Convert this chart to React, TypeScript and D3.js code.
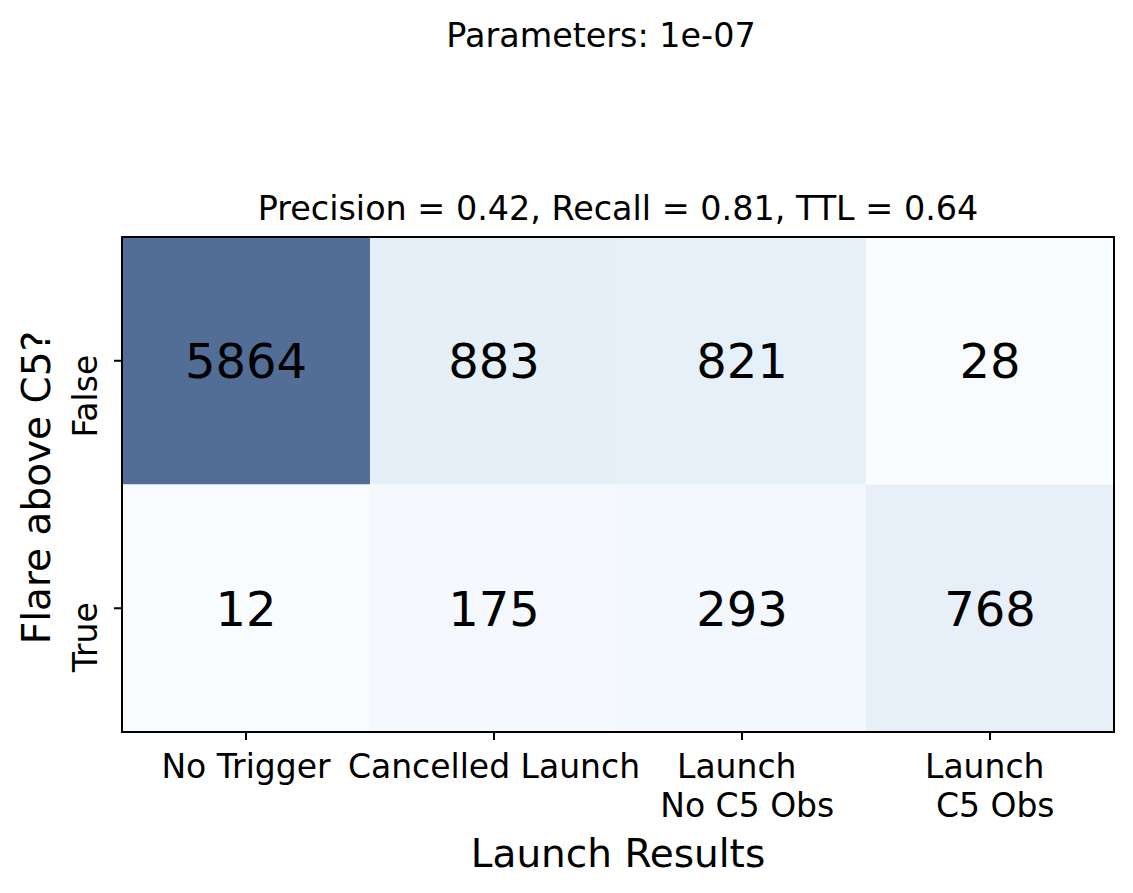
import React from "react";
import * as d3 from "d3";

const xCategories = ["No Trigger", "Cancelled Launch", "Launch \n No C5 Obs", "Launch \n C5 Obs"];
const yCategories = ["False", "True"];
const rowFalse = [5864, 883, 821, 28];
const rowTrue = [12, 175, 293, 768];
const matrix = [rowFalse, rowTrue];
const blues = ["#f7fbff", "#deebf7", "#c6dbef", "#9ecae1", "#6baed6", "#4292c6", "#2171b5", "#08519c", "#08306b"];
const suptitle = "Parameters: 1e-07";
const subtitle = "Precision = 0.42, Recall = 0.81, TTL = 0.64";
const xLabel = "Launch Results";
const yLabel = "Flare above C5?";

const W = 1133, H = 893;
const L = 122, R = 1114, T = 237, B = 732;
const FONT = "DejaVu Sans, sans-serif";

export default function App() {
  const x = d3.scaleBand<number>().domain(d3.range(xCategories.length)).range([L, R]);
  const y = d3.scaleBand<number>().domain(d3.range(yCategories.length)).range([T, B]);
  const all = matrix.flat();
  const vmin = d3.min(all)!, vmax = d3.max(all)!;
  const norm = d3.scaleLinear().domain([vmin, vmax]).range([0, 1]);
  const cmap = d3.scaleLinear<string>()
    .domain(blues.map((_, i) => i / (blues.length - 1)))
    .range(blues)
    .interpolate(d3.interpolateRgb);
  const alpha = 0.7;
  const color = (v: number) => {
    const c = d3.rgb(cmap(norm(v)));
    return d3.rgb(
      c.r * alpha + 255 * (1 - alpha),
      c.g * alpha + 255 * (1 - alpha),
      c.b * alpha + 255 * (1 - alpha)
    ).formatHex();
  };
  const cellFs = 48;
  const tickFs = 33;
  const titleFs = 33.4;
  const labelFs = 39;

  return (
    <svg width={W} height={H} style={{ display: "block", position: "absolute", left: 0, top: 0 }} fontFamily={FONT}>
      <rect x={0} y={0} width={W} height={H} fill="#fff" />
      <text x={601} y={47} textAnchor="middle" fontSize={titleFs} fill="#000">{suptitle}</text>
      <text x={(L + R) / 2} y={220} textAnchor="middle" fontSize={titleFs} fill="#000">{subtitle}</text>
      {matrix.map((row, ri) =>
        row.map((v, ci) => (
          <g key={`${ri}-${ci}`}>
            <rect x={x(ci)!} y={y(ri)!} width={x.bandwidth()} height={y.bandwidth()} fill={color(v)} />
            <text
              x={x(ci)! + x.bandwidth() / 2}
              y={y(ri)! + y.bandwidth() / 2 + 0.364 * cellFs}
              textAnchor="middle"
              fontSize={cellFs}
              fill="#000"
            >
              {v}
            </text>
          </g>
        ))
      )}
      <rect x={L} y={T} width={R - L} height={B - T} fill="none" stroke="#000" strokeWidth={2} />
      {xCategories.map((c, i) => {
        const cx = x(i)! + x.bandwidth() / 2;
        const lines = c.split("\n");
        return (
          <g key={c}>
            <line x1={cx} x2={cx} y1={B} y2={B + 8} stroke="#000" strokeWidth={2} />
            <text x={cx} y={778} textAnchor="middle" fontSize={tickFs} fill="#000" style={{ whiteSpace: "pre" }}>
              {lines.map((ln, k) => (
                <tspan key={k} x={cx} dy={k === 0 ? 0 : 39} xmlSpace="preserve">{ln}</tspan>
              ))}
            </text>
          </g>
        );
      })}
      {yCategories.map((c, i) => {
        const cy = y(i)! + y.bandwidth() / 2;
        return (
          <g key={c}>
            <line x1={L - 8} x2={L} y1={cy} y2={cy} stroke="#000" strokeWidth={2} />
            <text
              transform={`translate(97,${cy - 6}) rotate(-90)`}
              textAnchor="end"
              fontSize={tickFs}
              fill="#000"
            >
              {c}
            </text>
          </g>
        );
      })}
      <text x={(L + R) / 2} y={867} textAnchor="middle" fontSize={labelFs} fill="#000">{xLabel}</text>
      <text transform={`translate(50,${(T + B) / 2 + 3}) rotate(-90)`} textAnchor="middle" fontSize={labelFs} fill="#000">{yLabel}</text>
    </svg>
  );
}
